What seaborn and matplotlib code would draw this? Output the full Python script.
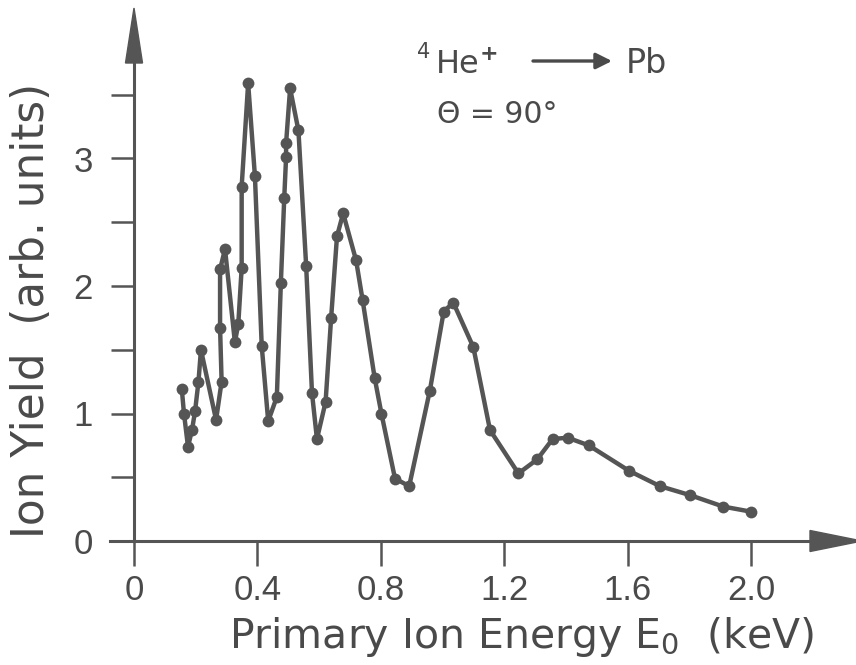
import matplotlib
matplotlib.use("Agg")
import matplotlib.pyplot as plt
import pandas as pd
import seaborn as sns
from matplotlib.patches import Polygon

# Ion yield vs. primary ion energy, 4He+ on Pb, scattering angle 90 deg
energy_kev = [0.155, 0.162, 0.175, 0.188, 0.198, 0.209, 0.217, 0.266, 0.284,
              0.279, 0.279, 0.295, 0.327, 0.338, 0.349, 0.349, 0.370, 0.392,
              0.414, 0.435, 0.463, 0.476, 0.487, 0.493, 0.493, 0.506, 0.533,
              0.558, 0.577, 0.593, 0.621, 0.639, 0.658, 0.678, 0.720, 0.741,
              0.780, 0.802, 0.846, 0.892, 0.959, 1.004, 1.035, 1.100, 1.154,
              1.246, 1.307, 1.357, 1.406, 1.474, 1.605, 1.705, 1.802, 1.910,
              2.000]
ion_yield = [1.19, 1.00, 0.74, 0.87, 1.02, 1.25, 1.50, 0.95, 1.25,
             1.67, 2.13, 2.29, 1.56, 1.70, 2.14, 2.78, 3.59, 2.86,
             1.53, 0.94, 1.13, 2.02, 2.69, 3.01, 3.12, 3.55, 3.22,
             2.16, 1.16, 0.80, 1.09, 1.75, 2.39, 2.57, 2.20, 1.89,
             1.28, 1.00, 0.49, 0.43, 1.18, 1.80, 1.87, 1.52, 0.87,
             0.53, 0.64, 0.80, 0.81, 0.75, 0.55, 0.43, 0.36, 0.27,
             0.23]

x_ticks = [0.0, 0.4, 0.8, 1.2, 1.6, 2.0]
x_tick_labels = ["0", "0.4", "0.8", "1.2", "1.6", "2.0"]
y_ticks = [0, 1, 2, 3]
y_tick_labels = ["0", "1", "2", "3"]
y_minor_ticks = [0.5, 1.5, 2.5, 3.5]

df = pd.DataFrame({"energy": energy_kev, "yield": ion_yield})

sns.set_theme(style="ticks")
plt.rcParams["font.family"] = ["DejaVu Sans"]
plt.rcParams["mathtext.default"] = "regular"

INK = "#555555"
TEXT = "#4a4a4a"
W, H = 856, 665

fig = plt.figure(figsize=(W / 100, H / 100), dpi=100)
fig.patch.set_facecolor("white")

# axes box in pixels: x axis line from 110 to 812, y axis from 541 up to 63
L, R, T, B = 110, 812, 63, 541
ax = fig.add_axes([L / W, 1 - B / H, (R - L) / W, (B - T) / H])
x0_px, px_per_kev = 134.0, 308.5
px_per_unit = 127.5
ax.set_xlim((L - x0_px) / px_per_kev, (R - x0_px) / px_per_kev)
ax.set_ylim(0, (B - T) / px_per_unit)
ax.set_facecolor("white")

sns.lineplot(data=df, x="energy", y="yield", sort=False, estimator=None,
             color=INK, linewidth=3.2, marker="o", markersize=8.5,
             markeredgewidth=0, markerfacecolor=INK, ax=ax, zorder=3)

# axis lines
for side in ("top", "right"):
    ax.spines[side].set_visible(False)
ax.spines["left"].set_position(("data", 0))
for side in ("left", "bottom"):
    ax.spines[side].set_color(INK)
    ax.spines[side].set_linewidth(2.2)

tick_font = ["Liberation Sans", "DejaVu Sans"]
ax.set_xticks(x_ticks)
ax.set_xticklabels(x_tick_labels, family=tick_font)
ax.set_yticks(y_ticks)
ax.set_yticklabels(y_tick_labels, family=tick_font)
ax.set_yticks(y_minor_ticks, minor=True)
ax.tick_params(axis="x", direction="out", length=18, width=1.8, pad=6,
               color=INK, labelcolor=TEXT, labelsize=25)
ax.tick_params(axis="y", which="both", direction="out", length=16.5,
               width=1.8, pad=13, color=INK, labelcolor=TEXT, labelsize=25)
ax.tick_params(axis="x", which="minor", bottom=False)

ax.set_xlabel(r"Primary Ion Energy $\mathregular{E_0}$  (keV)", fontsize=29.5,
              color=TEXT, ha="center", va="baseline")
ax.xaxis.set_label_coords((521 - L) / (R - L), (B - 648) / (B - T))
ax.set_ylabel("Ion Yield  (arb. units)", fontsize=31.5, color=TEXT,
              ha="center", va="center")
ax.yaxis.set_label_coords((32 - L) / (R - L), (B - 310) / (B - T))


def fig_xy(px, py):
    return (px / W, 1 - py / H)


# arrowheads at the ends of both axes
y_head = Polygon([fig_xy(x0_px, 8), fig_xy(x0_px - 8.5, 63), fig_xy(x0_px + 8.5, 63)],
                 closed=True, transform=fig.transFigure, color=INK, zorder=5)
x_head = Polygon([fig_xy(810, B - 10.5), fig_xy(862, B), fig_xy(810, B + 10.5)],
                 closed=True, transform=fig.transFigure, color=INK, zorder=5)
fig.patches.extend([y_head, x_head])

# reaction: 4He+ -> Pb
fig.text(*fig_xy(417, 58), "4", fontsize=15, color=TEXT, ha="left", va="baseline")
fig.text(*fig_xy(436, 73), "He", fontsize=23, color=TEXT, ha="left", va="baseline")
fig.text(*fig_xy(480, 60), "+", fontsize=16, color=TEXT, ha="left", va="baseline",
         fontweight="bold")
ax.annotate("", xy=fig_xy(612, 61), xytext=fig_xy(533, 61),
            xycoords="figure fraction", textcoords="figure fraction",
            arrowprops=dict(arrowstyle="-|>,head_length=0.8,head_width=0.4",
                            color=TEXT, lw=2.4, shrinkA=0, shrinkB=0))
fig.text(*fig_xy(626, 73), "Pb", fontsize=24, color=TEXT,
         ha="left", va="baseline")
fig.text(*fig_xy(437, 123), "\u0398 = 90\u00b0", fontsize=21.5, color=TEXT,
         ha="left", va="baseline")

fig.savefig("out.png", dpi=100, facecolor="white")
